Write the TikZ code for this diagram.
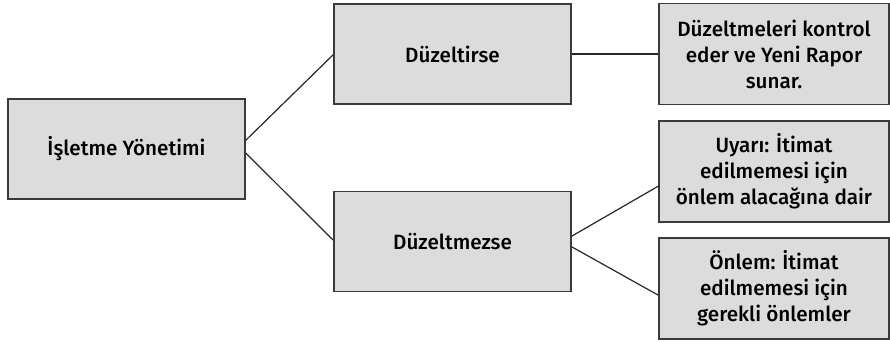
\documentclass[tikz,border=0pt]{standalone}
\usepackage{fontspec}
\setmainfont{Fira Sans}[UprightFont=* Medium]
\usepackage{tikz}

\definecolor{kutu}{HTML}{DCDCDC}
\definecolor{kenar}{HTML}{3A3A3A}

\tikzset{
  kutubuyuk/.style={draw=kenar,line width=1.1pt,fill=kutu,minimum width=177.75pt,
    minimum height=75pt,align=center,font=\fontsize{15.5}{19.5}\selectfont,inner sep=0pt},
  kutukucuk/.style={kutubuyuk,minimum width=172.5pt,minimum height=75.75pt},
  baglanti/.style={draw=black!85,line width=0.9pt}
}

\begin{document}
\begin{tikzpicture}[x=0.75pt,y=-0.75pt]
\useasboundingbox (0,0) rectangle (890,342);

\coordinate (a) at (126.5,149);
\coordinate (b) at (452.5,54);
\coordinate (c) at (452.5,241.5);
\coordinate (d) at (774,54);
\coordinate (e) at (774,171.5);
\coordinate (f) at (774,288.5);

\node[kutubuyuk] (yon) at (a) {İşletme Yönetimi};
\node[kutubuyuk] (dzt) at (b) {Düzeltirse};
\node[kutubuyuk] (dzm) at (c) {Düzeltmezse};
\node[kutukucuk] (kon) at (d) {Düzeltmeleri kontrol\\eder ve Yeni Rapor\\sunar.};
\node[kutukucuk] (uya) at (e) {Uyarı: İtimat\\edilmemesi için\\önlem alacağına dair};
\node[kutukucuk] (onl) at (f) {Önlem: İtimat\\edilmemesi için\\gerekli önlemler};

% dallar
\draw[baglanti] ([yshift=6.5pt]yon.east) -- ([yshift=-0.5pt]dzt.west);
\draw[baglanti] ([yshift=-3pt]yon.east) -- ([yshift=1pt]dzm.west);
\draw[baglanti] (dzt.east) -- (kon.west);
\draw[baglanti] ([yshift=4pt]dzm.east) -- ([yshift=-11pt]uya.west);
\draw[baglanti] ([yshift=-4pt]dzm.east) -- ([yshift=-5pt]onl.west);
\end{tikzpicture}
\end{document}
